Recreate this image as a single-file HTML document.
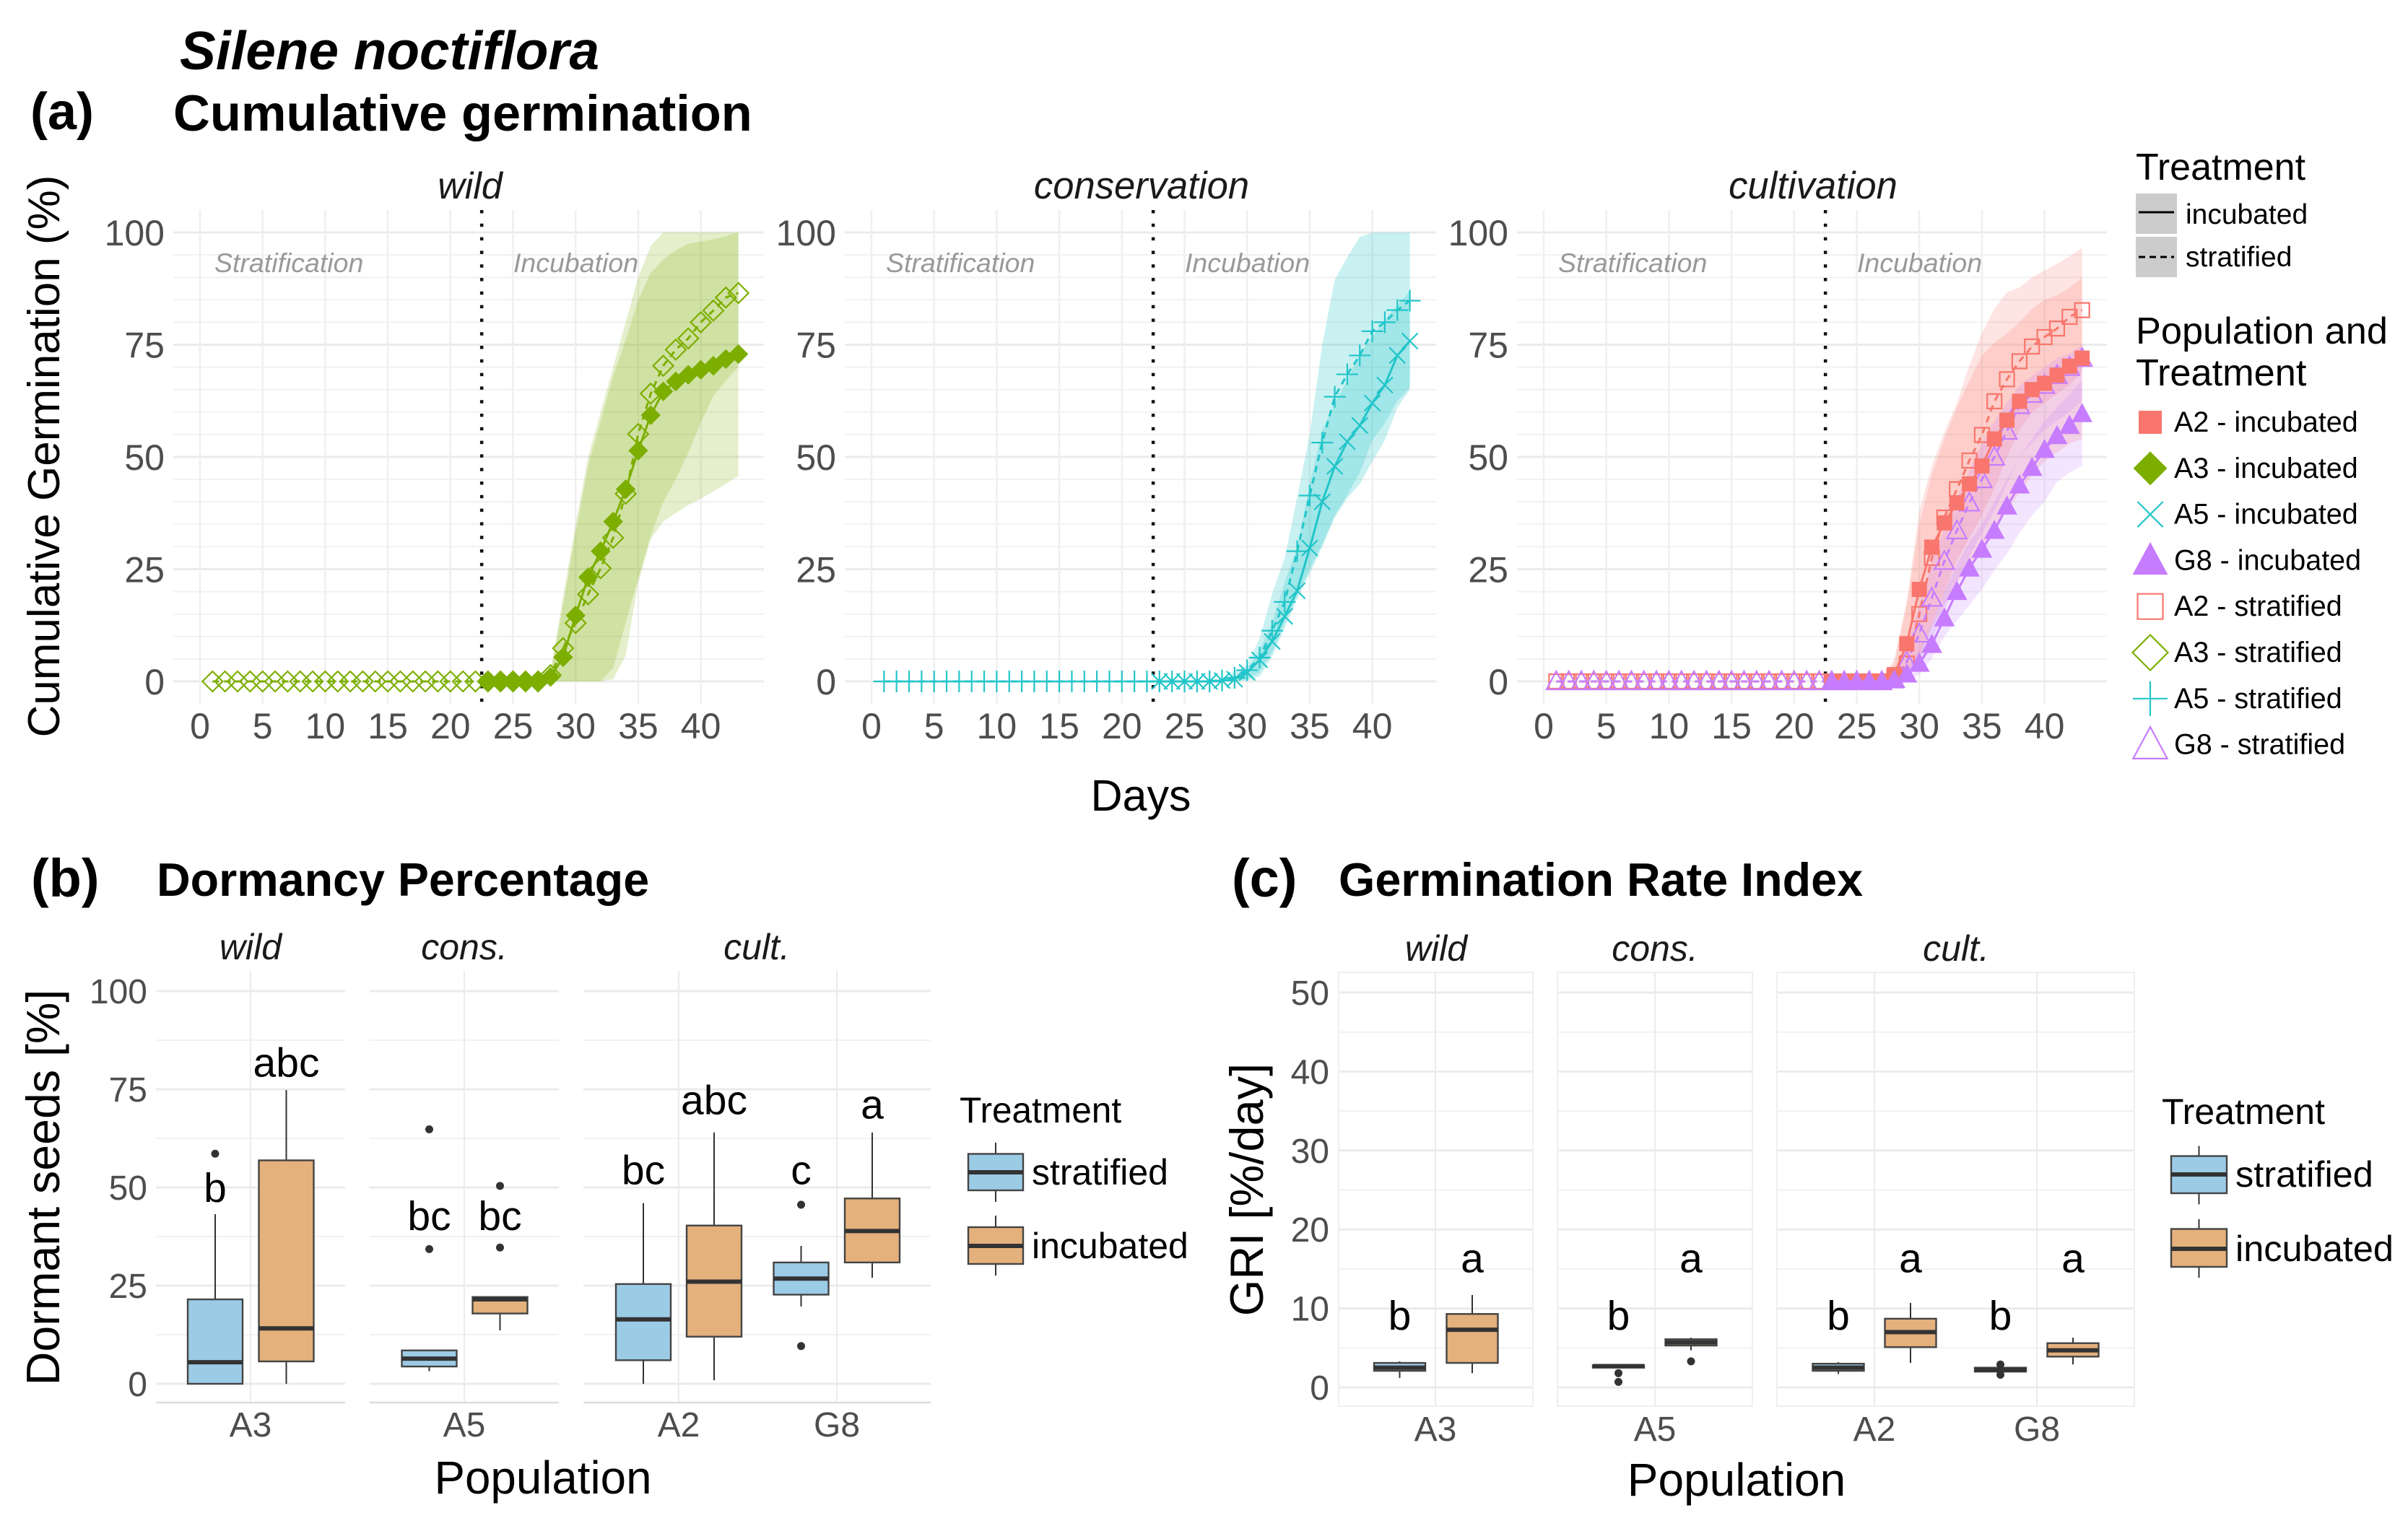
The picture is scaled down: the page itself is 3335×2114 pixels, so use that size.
<!DOCTYPE html>
<html lang="en">
<head>
<meta charset="utf-8">
<title>Silene noctiflora germination</title>
<style>
html,body{margin:0;padding:0;background:#fff;}
svg{display:block;font-family:"Liberation Sans",Arial,sans-serif;}
</style>
</head>
<body>
<svg id="figure" xmlns="http://www.w3.org/2000/svg" width="3335" height="2114" viewBox="0 0 3335 2114">
<rect x="0" y="0" width="3335" height="2114" fill="#fff"/>
<g id="layer-a"></g>
<g id="layer-b"></g>
<g id="layer-c"></g>

<text x="249" y="96" font-size="74.7" font-weight="700" font-style="italic">Silene noctiflora</text>
<text x="42" y="179" font-size="72" font-weight="700">(a)</text>
<text x="240" y="181" font-size="70.4" font-weight="700">Cumulative germination</text>
<text x="651" y="275" font-size="52" font-style="italic" text-anchor="middle" fill="#1a1a1a">wild</text>
<text x="1581" y="275" font-size="52.6" font-style="italic" text-anchor="middle" fill="#1a1a1a">conservation</text>
<text x="2511" y="275" font-size="52.6" font-style="italic" text-anchor="middle" fill="#1a1a1a">cultivation</text>
<text transform="translate(82,632) rotate(-90)" font-size="62" text-anchor="middle">Cumulative Germination (%)</text>
<text x="1580" y="1123" font-size="61" text-anchor="middle">Days</text>

<text x="2958" y="249" font-size="52">Treatment</text>
<rect x="2958" y="268" width="57" height="56" fill="#cccccc"/>
<line x1="2962" x2="3011" y1="294" y2="294" stroke="#000" stroke-width="3"/>
<text x="3027" y="310" font-size="39">incubated</text>
<rect x="2958" y="328" width="57" height="56" fill="#cccccc"/>
<line x1="2962" x2="3011" y1="356" y2="356" stroke="#000" stroke-width="3" stroke-dasharray="9 6"/>
<text x="3027" y="369" font-size="39">stratified</text>
<text x="2958" y="476" font-size="52.3">Population and</text>
<text x="2958" y="534" font-size="52.3">Treatment</text>
<g id="legend-pop"></g>

<text x="43" y="1242" font-size="74" font-weight="700">(b)</text>
<text x="217" y="1241" font-size="64.6" font-weight="700">Dormancy Percentage</text>
<text transform="translate(82,1645) rotate(-90)" font-size="64.5" text-anchor="middle">Dormant seeds [%]</text>
<text x="752" y="2069" font-size="63.7" text-anchor="middle">Population</text>
<text x="1329" y="1555" font-size="49.6">Treatment</text>
<text x="1429" y="1641" font-size="50">stratified</text>
<text x="1429" y="1743" font-size="50">incubated</text>

<text x="1706" y="1242" font-size="74" font-weight="700">(c)</text>
<text x="1854" y="1241" font-size="64.7" font-weight="700">Germination Rate Index</text>
<text transform="translate(1749,1648) rotate(-90)" font-size="65" text-anchor="middle">GRI [%/day]</text>
<text x="2405" y="2072" font-size="64" text-anchor="middle">Population</text>
<text x="2994" y="1557" font-size="50">Treatment</text>
<text x="3096" y="1644" font-size="50.5">stratified</text>
<text x="3096" y="1747" font-size="50.5">incubated</text>
</svg>

<script>
/* ---------- panel (a) data ---------- */
const xTickDays = [0,5,10,15,20,25,30,35,40];
const yTickPct = [0,25,50,75,100];
const yGridPct = [0,5,10,15,20,25,30,35,40,45,50,55,60,65,70,75,80,85,90,95,100];
const daysAll = [1,2,3,4,5,6,7,8,9,10,11,12,13,14,15,16,17,18,19,20,21,22,23,24,25,26,27,28,29,30,31,32,33,34,35,36,37,38,39,40,41,42,43];
const daysInc = [23,24,25,26,27,28,29,30,31,32,33,34,35,36,37,38,39,40,41,42,43];

const a3StratMean = [0,0,0,0,0,0,0,0,0,0,0,0,0,0,0,0,0,0,0,0,0,0,0,0,0,0,0,1.4,7.4,13,19.4,25.2,32,41.8,55.1,64.1,70.3,73.9,76.4,80,82.6,85.5,86.5];
const a3IncMean = [0,0,0,0,0,1,5.4,14.7,23.2,29,35.6,42.8,51.4,59.3,64.6,66.8,68.3,69.4,70.3,71.8,72.9];
const a3StratUpper = [0,0,0,0,0,2,19,35,50,60,70,80,90,97,100,100,100,100,100,100,100];
const a3StratLower = [0,0,0,0,0,0,0,0,0,0,3,13,23,32.4,40,45,51,57.6,63.6,67,70];
const a3IncUpper = [0,0,0,0,0,2,17,33,48,58,68,76,85,91,94,96,97.5,98,98.5,99.2,100];
const a3IncLower = [0,0,0,0,0,0,0,0,0,0,0.5,5.7,22,31.7,35.6,37.5,39.3,40.7,42.3,44,45.8];

const a5StratMean = [0,0,0,0,0,0,0,0,0,0,0,0,0,0,0,0,0,0,0,0,0,0,0,0,0,0,0,0.2,0.8,2.5,5.3,11.3,17.7,29,41.4,53.2,63.4,68.4,72.6,78,80,82.7,84.8];
const a5IncMean = [0,0,0,0,0,0.2,0.5,2,4.8,8.9,14.5,20.2,29.7,40,47.9,53.4,57,62,66,72.6,75.8];
const a5StratUpper = [0,0,0,0,0,0,2.3,3.6,9.6,19.5,27.5,41,55,75,89.5,94.5,99,100,100,100,100];
const a5StratLower = [0,0,0,0,0,0,0,0.5,2,6.5,13,19,25,30.5,37,41.5,46.5,53.7,57.5,62.5,65.5];
const a5IncUpper = [0,0,0,0,0,0,0.8,2.5,7,13,22,30,44,56,62,67,73,76.7,80.5,83.8,87];
const a5IncLower = [0,0,0,0,0,0,0,0.2,1.1,5.5,11.9,18.3,24,30,36.5,40.8,44,49,53.7,61,65];

const a2StratMean = [0,0,0,0,0,0,0,0,0,0,0,0,0,0,0,0,0,0,0,0,0,0,0,0,0,0,0,1,4,15,27.5,36.5,42.8,49.2,54.9,62.4,67.3,71.3,74.6,76.7,78.6,81.2,82.7];
const a2IncMean = [0,0,0,0,0,1.5,8.4,20.5,29.9,35.3,39.8,44,48,54,58.2,62.4,65,66.4,68.2,70.2,72];
const a2StratUpper = [0,0,0,0,0,5,18,38,48,55.5,62,70.5,77.6,83,86.7,87.7,90,91.5,93,94.7,96.5];
const a2StratLower = [0,0,0,0,0,0,2,6,13,20,27,32,37,43,50,56,60,62,64,66,69];
const a2IncUpper = [0,0,0,0,0,4,17,35,46,54,61,67,72.6,75.4,77.5,80,83,85,86,87.7,90];
const a2IncLower = [0,0,0,0,0,0,1,5,12,17,22,26,30,34,38,42,46,49,51,53,54];

const g8StratMean = [0,0,0,0,0,0,0,0,0,0,0,0,0,0,0,0,0,0,0,0,0,0,0,0,0,0,0,0.5,4.4,10.6,18.6,26.8,33.6,39.8,45,50,55.8,61.5,64,66,68.2,70,72];
const g8IncMean = [0,0,0,0,0,0.3,1.6,4,8.2,14.1,20,25.2,29.4,33.6,39,43.7,47.6,51.6,54.7,57,59.6];
const g8StratUpper = [0,0,0,0,0,0,8,17,27,34,41,47,53,58,62,66,68,70,72,73,75];
const g8StratLower = [0,0,0,0,0,0,1,4,9,16,22,28,33,38,44,50,53,56,58,60,62.5];
const g8IncUpper = [0,0,0,0,0,0,3,7,13,20,26,31,35,40,45,50,54,58,61,64,67];
const g8IncLower = [0,0,0,0,0,0,0,1.5,5,10,13.5,17,20.5,24.8,28.5,33,37,40,44.5,46.5,48];

const legendLabels = ['A2 - incubated','A3 - incubated','A5 - incubated','G8 - incubated','A2 - stratified','A3 - stratified','A5 - stratified','G8 - stratified'];

/* ---------- panel (b) data: [low, q1, median, q3, high] ---------- */
const dormancyA3Strat = [0,0,5.5,21.5,43.2];
const dormancyA3Inc = [0,5.7,14.1,56.9,74.8];
const dormancyA5Strat = [3.2,4.4,6.4,8.5,8.5];
const dormancyA5Inc = [13.6,17.9,21.5,22.1,22.1];
const dormancyA2Strat = [0,6,16.4,25.4,46];
const dormancyA2Inc = [0.9,12,26,40.3,64];
const dormancyG8Strat = [19.7,22.7,26.8,30.9,35.1];
const dormancyG8Inc = [27,30.9,38.9,47.2,64];
const dormancyOutA3Strat = [58.6];
const dormancyOutA5Strat = [64.8,34.3];
const dormancyOutA5Inc = [50.4,34.7];
const dormancyOutG8Strat = [45.6,9.6];
const dormancyLetterText = ['b','abc','bc','bc','bc','abc','c','a'];
const dormancyLetterValue = [46.3,78.2,39.2,39.2,50.8,68.7,50.8,67.6];
const dormancyTicks = [0,25,50,75,100];
const dormancyMinor = [12.5,37.5,62.5,87.5];

/* ---------- panel (c) data ---------- */
const griA3Strat = [1.2,2.1,2.5,3.1,3.3];
const griA3Inc = [1.8,3.1,7.3,9.3,11.7];
const griA5Strat = [2.4,2.5,2.7,2.8,2.9];
const griA5Inc = [4.7,5.3,5.7,6.1,6.3];
const griA2Strat = [1.7,2.1,2.5,3,3.2];
const griA2Inc = [3.1,5.1,7,8.7,10.7];
const griG8Strat = [2,2,2.2,2.5,2.8];
const griG8Inc = [2.9,3.9,4.7,5.6,6.3];
const griOutA5Strat = [1.8,0.7];
const griOutA5Inc = [3.3];
const griOutG8Strat = [2.9,1.6];
const griLetterText = ['b','a','b','a','b','a','b','a'];
const griLetterValue = [7.3,14.6,7.3,14.6,7.3,14.6,7.3,14.6];
const griTicks = [0,10,20,30,40,50];
const griMinor = [5,15,25,35,45];

/* ---------- helpers ---------- */
const NS = 'http://www.w3.org/2000/svg';
const GREEN = '#7CAE00', CYAN = '#22C5C9', RED = '#F8766D', PURPLE = '#C77CFF';
const BLUE_FILL = '#9ccbe6', ORANGE_FILL = '#e4b07c';

function make(tag, attrs, parent) {
  const n = document.createElementNS(NS, tag);
  for (const k in attrs) n.setAttribute(k, attrs[k]);
  parent.appendChild(n);
  return n;
}

function markerShape(shape, cx, cy, k, color, parent, name) {
  let d = '', filled = false;
  if (shape === 'square') { filled = true; d = `M${cx-10*k} ${cy-10*k}h${20*k}v${20*k}h${-20*k}z`; }
  if (shape === 'squareOpen') { d = `M${cx-10*k} ${cy-10*k}h${20*k}v${20*k}h${-20*k}z`; }
  if (shape === 'diamond') { filled = true; d = `M${cx-13*k} ${cy}L${cx} ${cy-13*k}L${cx+13*k} ${cy}L${cx} ${cy+13*k}z`; }
  if (shape === 'diamondOpen') { d = `M${cx-14*k} ${cy}L${cx} ${cy-14*k}L${cx+14*k} ${cy}L${cx} ${cy+14*k}z`; }
  if (shape === 'triangle') { filled = true; d = `M${cx-13.5*k} ${cy+11*k}L${cx} ${cy-14*k}L${cx+13.5*k} ${cy+11*k}z`; }
  if (shape === 'triangleOpen') { d = `M${cx-13.5*k} ${cy+11*k}L${cx} ${cy-14*k}L${cx+13.5*k} ${cy+11*k}z`; }
  if (shape === 'cross') { d = `M${cx-11*k} ${cy-11*k}L${cx+11*k} ${cy+11*k}M${cx-11*k} ${cy+11*k}L${cx+11*k} ${cy-11*k}`; }
  if (shape === 'plus') { d = `M${cx-15*k} ${cy}H${cx+15*k}M${cx} ${cy-15*k}V${cy+15*k}`; }
  const p = make('path', {d: d, fill: filled ? color : 'none', stroke: color, 'stroke-width': filled ? 1 : 2.2}, parent);
  
  
}

/* ---------- germination panels ---------- */
const facetY = v => 944 - 6.22 * v;
const layerA = document.getElementById('layer-a');

function germPanel(cfg) {
  const x = d => cfg.x0 + 17.34 * d;
  const g = make('g', {}, layerA);
  
  

  yGridPct.forEach(v => {
    const major = yTickPct.includes(v);
    const l = make('line', {x1: cfg.left, x2: cfg.right, y1: facetY(v), y2: facetY(v), stroke: major ? '#ebebeb' : '#f1f1f1', 'stroke-width': major ? 3 : 2}, g);
    
    
  });
  xTickDays.forEach(d => {
    const l = make('line', {x1: x(d), x2: x(d), y1: 291, y2: 975, stroke: '#efefef', 'stroke-width': 2.5}, g);
    
    
    const t = make('text', {x: x(d), y: 1023, 'font-size': 50, 'text-anchor': 'middle', fill: '#4d4d4d'}, g);
    t.textContent = d;
    
    
  });
  yTickPct.forEach(v => {
    const t = make('text', {x: cfg.x0 - 49, y: facetY(v) + 18, 'font-size': 50, 'text-anchor': 'end', fill: '#4d4d4d'}, g);
    t.textContent = v;
    
    
  });

  cfg.ribbons.forEach(r => {
    const top = daysInc.map((d, i) => x(d) + ' ' + facetY(r.upper[i]));
    const bot = daysInc.map((d, i) => x(d) + ' ' + facetY(r.lower[i])).reverse();
    const p = make('path', {d: 'M' + top.join('L') + 'L' + bot.join('L') + 'z', fill: r.color, 'fill-opacity': cfg.alpha, stroke: 'none'}, g);
    
    
  });

  const dot = make('line', {x1: x(22.5), x2: x(22.5), y1: 291, y2: 975, stroke: '#111', 'stroke-width': 4.5, 'stroke-dasharray': '4.5 14.3'}, g);
  
  

  const s = make('text', {x: cfg.x0 + 20, y: 377, 'font-size': 37.5, 'font-style': 'italic', fill: '#999999'}, g);
  s.textContent = 'Stratification';
  
  
  const inc = make('text', {x: cfg.x0 + 434, y: 377, 'font-size': 37.5, 'font-style': 'italic', fill: '#999999'}, g);
  inc.textContent = 'Incubation';
  
  

  cfg.series.forEach(r => {
    const pts = r.days.map((d, i) => x(d) + ' ' + facetY(r.values[i]));
    const line = make('path', {d: 'M' + pts.join('L'), fill: 'none', stroke: r.color, 'stroke-width': 3, 'stroke-dasharray': r.dashed ? '9 7' : 'none'}, g);
    
    
    r.days.forEach((d, i) => {
      markerShape(r.shape, x(d), facetY(r.values[i]), 1, r.color, g, 'point-' + r.name);
    });
  });
}

germPanel({name: 'wild', x0: 277, left: 240, right: 1058, alpha: 0.2,
  ribbons: [
    {name: 'a3-stratified', color: GREEN, upper: a3StratUpper, lower: a3StratLower},
    {name: 'a3-incubated', color: GREEN, upper: a3IncUpper, lower: a3IncLower}
  ],
  series: [
    {name: 'a3-stratified', color: GREEN, days: daysAll, values: a3StratMean, shape: 'diamondOpen', dashed: true},
    {name: 'a3-incubated', color: GREEN, days: daysInc, values: a3IncMean, shape: 'diamond', dashed: false}
  ]});
germPanel({name: 'conservation', x0: 1207, left: 1170, right: 1989, alpha: 0.24,
  ribbons: [
    {name: 'a5-stratified', color: CYAN, upper: a5StratUpper, lower: a5StratLower},
    {name: 'a5-incubated', color: CYAN, upper: a5IncUpper, lower: a5IncLower}
  ],
  series: [
    {name: 'a5-stratified', color: CYAN, days: daysAll, values: a5StratMean, shape: 'plus', dashed: true},
    {name: 'a5-incubated', color: CYAN, days: daysInc, values: a5IncMean, shape: 'cross', dashed: false}
  ]});
germPanel({name: 'cultivation', x0: 2138, left: 2101, right: 2918, alpha: 0.2,
  ribbons: [
    {name: 'a2-stratified', color: RED, upper: a2StratUpper, lower: a2StratLower},
    {name: 'a2-incubated', color: RED, upper: a2IncUpper, lower: a2IncLower},
    {name: 'g8-stratified', color: PURPLE, upper: g8StratUpper, lower: g8StratLower},
    {name: 'g8-incubated', color: PURPLE, upper: g8IncUpper, lower: g8IncLower}
  ],
  series: [
    {name: 'a2-stratified', color: RED, days: daysAll, values: a2StratMean, shape: 'squareOpen', dashed: true},
    {name: 'g8-stratified', color: PURPLE, days: daysAll, values: g8StratMean, shape: 'triangleOpen', dashed: true},
    {name: 'a2-incubated', color: RED, days: daysInc, values: a2IncMean, shape: 'square', dashed: false},
    {name: 'g8-incubated', color: PURPLE, days: daysInc, values: g8IncMean, shape: 'triangle', dashed: false}
  ]});

/* ---------- population legend ---------- */
const legendPop = document.getElementById('legend-pop');
const legendShapes = ['square','diamond','cross','triangle','squareOpen','diamondOpen','plus','triangleOpen'];
const legendColors = [RED,GREEN,CYAN,PURPLE,RED,GREEN,CYAN,PURPLE];
const legendScale = [1.55,1.75,1.6,1.75,1.75,1.75,1.6,1.75];
legendLabels.forEach((label, i) => {
  const cy = 585 + 63.8 * i;
  markerShape(legendShapes[i], 2978, cy, legendScale[i], legendColors[i], legendPop, 'legend-marker');
  const t = make('text', {x: 3011, y: cy + 13, 'font-size': 39.5}, legendPop);
  t.textContent = label;
  
  
});

/* ---------- box plots ---------- */
function drawBox(g, cx, w, stats, outliers, yFn, fill, name) {
  const [low, q1, med, q3, high] = stats;
  const whisker = make('path', {d: `M${cx} ${yFn(high)}V${yFn(q3)}M${cx} ${yFn(q1)}V${yFn(low)}`, stroke: '#333', 'stroke-width': 2, fill: 'none'}, g);
  
  
  const box = make('rect', {x: cx - w / 2, y: yFn(q3), width: w, height: Math.max(yFn(q1) - yFn(q3), 1), fill: fill, stroke: '#444', 'stroke-width': 2.4}, g);
  
  
  const m = make('line', {x1: cx - w / 2, x2: cx + w / 2, y1: yFn(med), y2: yFn(med), stroke: '#333', 'stroke-width': 6}, g);
  
  
  outliers.forEach(v => {
    const c = make('circle', {cx: cx, cy: yFn(v), r: 5.5, fill: '#333'}, g);
    
    
  });
}

function boxPanels(cfg) {
  const g = cfg.layer;
  cfg.panels.forEach(p => {
    cfg.minor.forEach(v => {
      const l = make('line', {x1: p.left, x2: p.right, y1: cfg.y(v), y2: cfg.y(v), stroke: '#f1f1f1', 'stroke-width': 2}, g);
      
      
    });
    cfg.ticks.forEach(v => {
      const l = make('line', {x1: p.left, x2: p.right, y1: cfg.y(v), y2: cfg.y(v), stroke: '#ebebeb', 'stroke-width': 3}, g);
      
      
    });
    p.cats.forEach(c => {
      const l = make('line', {x1: c.x, x2: c.x, y1: cfg.top, y2: cfg.bottom, stroke: '#ebebeb', 'stroke-width': 2}, g);
      
      
      const t = make('text', {x: c.x, y: cfg.tickY, 'font-size': 48, 'text-anchor': 'middle', fill: '#4d4d4d'}, g);
      t.textContent = c.label;
      
      
    });
    if (cfg.border) {
      const r = make('rect', {x: p.left, y: cfg.top, width: p.right - p.left, height: cfg.bottom - cfg.top, fill: 'none', stroke: '#efefef', 'stroke-width': 2}, g);
      
      
    } else {
      const a = make('line', {x1: p.left, x2: p.right, y1: cfg.bottom, y2: cfg.bottom, stroke: '#dddddd', 'stroke-width': 2.5}, g);
      
      
    }
    const f = make('text', {x: p.titleX, y: cfg.stripY, 'font-size': 50, 'font-style': 'italic', 'text-anchor': 'middle', fill: '#1a1a1a'}, g);
    f.textContent = p.title;
    
    
  });
  cfg.ticks.forEach(v => {
    const t = make('text', {x: cfg.labelRight, y: cfg.y(v) + 17, 'font-size': 48, 'text-anchor': 'end', fill: '#4d4d4d'}, g);
    t.textContent = v;
    
    
  });
  cfg.boxes.forEach((b, i) => {
    drawBox(g, b.x, cfg.boxW, b.stats, b.out, cfg.y, b.fill, b.name);
    const t = make('text', {x: b.x, y: cfg.y(cfg.letterValue[i]), 'font-size': 57, 'text-anchor': 'middle', fill: '#000'}, g);
    t.textContent = cfg.letterText[i];
    
    
  });
  cfg.keys.forEach(k => {
    drawBox(g, k.x, cfg.keyW, k.stats, [], v => v, k.fill, 'legend-key-' + k.name);
  });
}

boxPanels({
  layer: document.getElementById('layer-b'),
  y: v => 1917 - 5.44 * v,
  top: 1345, bottom: 1943, tickY: 1990, stripY: 1329, labelRight: 204, boxW: 76, keyW: 76, border: false,
  ticks: dormancyTicks, minor: dormancyMinor,
  letterText: dormancyLetterText, letterValue: dormancyLetterValue,
  panels: [
    {left: 216, right: 478, title: 'wild', titleX: 347, cats: [{x: 347, label: 'A3'}]},
    {left: 512, right: 774, title: 'cons.', titleX: 643, cats: [{x: 643, label: 'A5'}]},
    {left: 808, right: 1289, title: 'cult.', titleX: 1048, cats: [{x: 940, label: 'A2'}, {x: 1159, label: 'G8'}]}
  ],
  boxes: [
    {x: 298, stats: dormancyA3Strat, out: dormancyOutA3Strat, fill: BLUE_FILL, name: 'a3-stratified'},
    {x: 396.5, stats: dormancyA3Inc, out: [], fill: ORANGE_FILL, name: 'a3-incubated'},
    {x: 594.5, stats: dormancyA5Strat, out: dormancyOutA5Strat, fill: BLUE_FILL, name: 'a5-stratified'},
    {x: 692.5, stats: dormancyA5Inc, out: dormancyOutA5Inc, fill: ORANGE_FILL, name: 'a5-incubated'},
    {x: 891, stats: dormancyA2Strat, out: [], fill: BLUE_FILL, name: 'a2-stratified'},
    {x: 989, stats: dormancyA2Inc, out: [], fill: ORANGE_FILL, name: 'a2-incubated'},
    {x: 1109.5, stats: dormancyG8Strat, out: dormancyOutG8Strat, fill: BLUE_FILL, name: 'g8-stratified'},
    {x: 1208, stats: dormancyG8Inc, out: [], fill: ORANGE_FILL, name: 'g8-incubated'}
  ],
  keys: [
    {x: 1379, name: 'stratified', fill: BLUE_FILL, stats: [1665,1649,1624,1598.5,1583]},
    {x: 1379, name: 'incubated', fill: ORANGE_FILL, stats: [1767,1751,1726,1700,1684]}
  ]
});

boxPanels({
  layer: document.getElementById('layer-c'),
  y: v => 1922 - 10.94 * v,
  top: 1347, bottom: 1948, tickY: 1996, stripY: 1331, labelRight: 1841, boxW: 71, keyW: 77, border: true,
  ticks: griTicks, minor: griMinor,
  letterText: griLetterText, letterValue: griLetterValue,
  panels: [
    {left: 1854, right: 2123, title: 'wild', titleX: 1989, cats: [{x: 1988, label: 'A3'}]},
    {left: 2157, right: 2427, title: 'cons.', titleX: 2292, cats: [{x: 2292, label: 'A5'}]},
    {left: 2461, right: 2956, title: 'cult.', titleX: 2709, cats: [{x: 2596, label: 'A2'}, {x: 2821, label: 'G8'}]}
  ],
  boxes: [
    {x: 1938.5, stats: griA3Strat, out: [], fill: BLUE_FILL, name: 'a3-stratified'},
    {x: 2039, stats: griA3Inc, out: [], fill: ORANGE_FILL, name: 'a3-incubated'},
    {x: 2241.5, stats: griA5Strat, out: griOutA5Strat, fill: BLUE_FILL, name: 'a5-stratified'},
    {x: 2342, stats: griA5Inc, out: griOutA5Inc, fill: ORANGE_FILL, name: 'a5-incubated'},
    {x: 2546, stats: griA2Strat, out: [], fill: BLUE_FILL, name: 'a2-stratified'},
    {x: 2646, stats: griA2Inc, out: [], fill: ORANGE_FILL, name: 'a2-incubated'},
    {x: 2770.5, stats: griG8Strat, out: griOutG8Strat, fill: BLUE_FILL, name: 'g8-stratified'},
    {x: 2871, stats: griG8Inc, out: [], fill: ORANGE_FILL, name: 'g8-incubated'}
  ],
  keys: [
    {x: 3045.5, name: 'stratified', fill: BLUE_FILL, stats: [1668.5,1653,1627,1601.5,1587.5]},
    {x: 3045.5, name: 'incubated', fill: ORANGE_FILL, stats: [1770,1755,1730,1702.5,1689]}
  ]
});
</script>
</body>
</html>
